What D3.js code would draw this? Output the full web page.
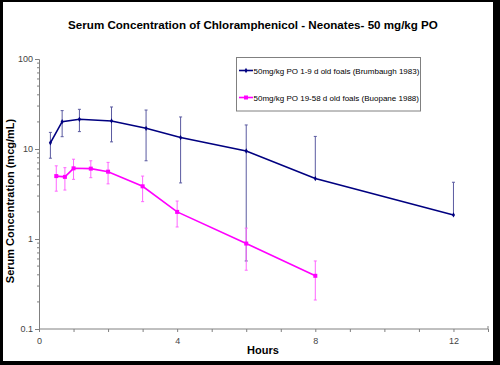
<!DOCTYPE html>
<html>
<head>
<meta charset="utf-8">
<script src="https://cdn.jsdelivr.net/npm/d3@7"></script>
<style>
  body { margin: 0; background: #000; }
  svg { display: block; font-family: "Liberation Sans", Arial, sans-serif; }
</style>
</head>
<body>
<svg width="500" height="365"></svg>
<script>
// ---- data ----
var brumHours = [0.33, 0.67, 1.17, 2.1, 3.1, 4.1, 6, 8, 12];
var brumConc  = [11.7, 20.1, 21.4, 20.5, 17.0, 13.4, 9.5, 4.7, 1.85];
var brumHigh  = [15.3, 26.7, 27.6, 29.3, 27.1, 22.7, 18.5, 13.8, 4.27];
var brumLow   = [7.9, 13.7, 15.6, 12.0, 7.4, 4.2, 0.57, null, null];

var buoHours = [0.5, 0.75, 1, 1.5, 2, 3, 4, 6, 8];
var buoConc  = [5.0, 4.9, 6.1, 6.05, 5.6, 3.85, 2.0, 0.89, 0.39];
var buoHigh  = [6.5, 6.2, 7.7, 7.4, 7.1, 5.0, 2.64, 1.32, 0.57];
var buoLow   = [3.4, 3.5, 4.6, 4.8, 4.1, 2.6, 1.36, 0.45, 0.21];

var xTickLabels = [0, 4, 8, 12];
var yTickLabels = [0.1, 1, 10, 100];

var seriesNames = [
  "50mg/kg PO 1-9 d old foals (Brumbaugh 1983)",
  "50mg/kg PO 19-58 d old foals (Buopane 1988)"
];

var svg = d3.select("svg");

/*========== frame ==========*/
svg.append("rect").attr("x", 0).attr("y", 0).attr("width", 500).attr("height", 365).attr("fill", "#000");
svg.append("rect").attr("x", 3).attr("y", 2).attr("width", 490).attr("height", 359).attr("fill", "#fff");

var x = d3.scaleLinear().domain([0, 13]).range([39, 488]);
var y = d3.scaleLog().domain([0.1, 100]).range([329, 59]);

/*========== axes ==========*/
var xAxis = d3.axisBottom(x).tickValues(d3.range(0, 14)).tickSize(3)
  .tickFormat(function(d){ return xTickLabels.indexOf(d) >= 0 ? d : ""; });
var gx = svg.append("g").attr("transform", "translate(0," + y(0.1) + ")").call(xAxis);
gx.select(".domain").attr("d", "M" + x(0) + ",0H" + x(13) + "V-3");

var minorY = [];
[0.1, 1, 10].forEach(function(dec){
  for (var k = 2; k <= 9; k++) minorY.push(dec * k);
});
var yAxis = d3.axisLeft(y).tickValues(yTickLabels).tickSize(4)
  .tickFormat(function(d){ return d; });
var gy = svg.append("g").attr("transform", "translate(" + x(0) + ",0)").call(yAxis);
gy.selectAll(".minor").data(minorY).enter().append("line")
  .attr("class", "minor").attr("x1", -2).attr("x2", 0)
  .attr("y1", function(d){ return y(d); }).attr("y2", function(d){ return y(d); })
  .attr("stroke", "#808080");

[gx, gy].forEach(function(g){
  g.select(".domain").attr("stroke", "#808080");
  g.selectAll(".tick line").attr("stroke", "#808080");
  g.selectAll(".tick text").attr("fill", "#444").style("font-size", "9px")
    .style("font-family", "'Liberation Sans', Arial, sans-serif");
});
gx.selectAll(".tick text").attr("dy", "1em");
gy.selectAll(".tick text").attr("x", -6);

/*========== titles ==========*/
svg.append("text").attr("x", 253).attr("y", 28.5).attr("text-anchor", "middle")
  .style("font-size", "11.6px").style("font-weight", "bold")
  .text("Serum Concentration of Chloramphenicol - Neonates- 50 mg/kg PO");

svg.append("text").attr("transform", "translate(13.5,201) rotate(-90)").attr("text-anchor", "middle")
  .style("font-size", "11px").style("font-weight", "bold")
  .text("Serum Concentration (mcg/mL)");

svg.append("text").attr("x", 263).attr("y", 354).attr("text-anchor", "middle")
  .style("font-size", "11px").style("font-weight", "bold")
  .text("Hours");

/*========== series ==========*/
function drawSeries(hours, conc, high, low, lineColor, barColor, marker){
  var pts = hours.map(function(h, i){ return {h: h, c: conc[i], hi: high[i], lo: low[i]}; });
  var g = svg.append("g");

  // error bars
  pts.forEach(function(p){
    var top = y(p.hi);
    var bot = p.lo == null ? y(p.c) : y(p.lo);
    g.append("line").attr("x1", x(p.h)).attr("x2", x(p.h)).attr("y1", top).attr("y2", bot)
      .attr("stroke", barColor).attr("stroke-width", 1);
    g.append("line").attr("x1", x(p.h) - 1.5).attr("x2", x(p.h) + 1.5).attr("y1", top).attr("y2", top)
      .attr("stroke", barColor).attr("stroke-width", 1);
    if (p.lo != null) {
      g.append("line").attr("x1", x(p.h) - 1.5).attr("x2", x(p.h) + 1.5).attr("y1", bot).attr("y2", bot)
        .attr("stroke", barColor).attr("stroke-width", 1);
    }
  });

  var line = d3.line().x(function(p){ return x(p.h); }).y(function(p){ return y(p.c); });
  g.append("path").datum(pts).attr("d", line).attr("fill", "none")
    .attr("stroke", lineColor).attr("stroke-width", 1.6);

  g.selectAll(".mk").data(pts).enter().append("path").attr("class", "mk")
    .attr("transform", function(p){ return "translate(" + x(p.h) + "," + y(p.c) + ")"; })
    .attr("d", marker).attr("fill", lineColor);
}

var diamond = d3.symbol().type(d3.symbolDiamond).size(8)();
var square = d3.symbol().type(d3.symbolSquare).size(16)();

drawSeries(brumHours, brumConc, brumHigh, brumLow, "#000080", "#5a5aa0", diamond);
drawSeries(buoHours, buoConc, buoHigh, buoLow, "#ff00ff", "#ff66ff", square);

/*========== legend ==========*/
var legend = svg.append("g");
legend.append("rect").attr("x", 236.5).attr("y", 57.5).attr("width", 184).attr("height", 53.5)
  .attr("fill", "#fff").attr("stroke", "#808080");
var legColors = ["#000080", "#ff00ff"];
var legMarks = [diamond, square];
seriesNames.forEach(function(name, i){
  var ly = 70.5 + i * 27;
  legend.append("line").attr("x1", 239).attr("x2", 253).attr("y1", ly).attr("y2", ly)
    .attr("stroke", legColors[i]).attr("stroke-width", 1.6);
  legend.append("path").attr("transform", "translate(246," + ly + ")").attr("d", legMarks[i]).attr("fill", legColors[i]);
  legend.append("text").attr("x", 253.5).attr("y", ly + 3).style("font-size", "8px").attr("fill", "#000")
    .text(name);
});
</script>
</body>
</html>
